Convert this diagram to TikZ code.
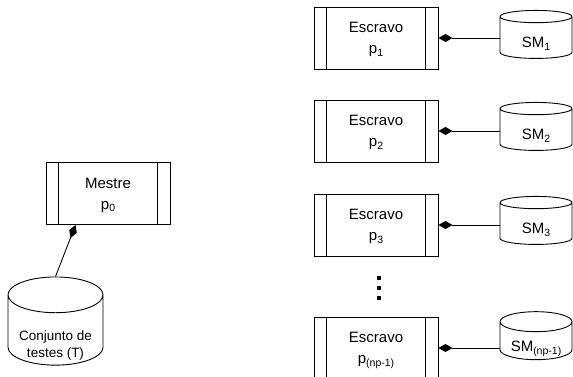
\documentclass[tikz,border=0pt]{standalone}
\usepackage{fontspec}
\setmainfont{Liberation Sans}
\usetikzlibrary{shapes.geometric,arrows.meta,positioning,calc}

\newcommand{\idx}[1]{\raisebox{-0.35ex}[\height][0pt]{\fontsize{10.5}{10.5}\selectfont #1}}
\newcommand{\low}[2]{\raisebox{-#1}[\height][\depth]{#2}}
\tikzset{
	proc/.style={draw, line width=0.9pt, minimum width=124pt, minimum height=62pt, align=center,
		font=\fontsize{15}{21}\selectfont, text depth=0pt,
		path picture={\draw[line width=0.9pt] ([xshift=12.5pt]path picture bounding box.north west) -- ([xshift=12.5pt]path picture bounding box.south west)
			([xshift=-12.5pt]path picture bounding box.north east) -- ([xshift=-12.5pt]path picture bounding box.south east);}},
	db/.style={cylinder, shape border rotate=90, aspect=0.35, draw, line width=0.9pt, align=center,
		font=\fontsize{15}{19}\selectfont, minimum width=72pt, minimum height=48pt},
	dmd/.style={{Diamond[length=14pt,width=8pt]}-, line width=0.9pt}
}

\begin{document}
\begin{tikzpicture}[x=1pt,y=-1pt]
	%Definitions%
	%===========================================================
	\def \SlaveX {376}; %x of the slave boxes
	\def \DiskX {536}; %x of the SM disks
	\useasboundingbox (0,0) rectangle (573,377);
	
	%Master and test set
	\node[proc] (m) at (108,193.5) {Mestre\\p\idx{0}};
	\node[db, minimum width=95pt, minimum height=83pt, aspect=0.45, font=\fontsize{13.5}{17}\selectfont] (t) at (55.5,333.5)
		{\low{12pt}{\begin{tabular}{@{}c@{}}Conjunto de\\testes (T)\end{tabular}}};
	\draw[dmd] ([xshift=30pt]m.south west) -- (t.north); %master - test set
	
	%Slaves and their memories
	\foreach \i/\ys/\yd/\lab in {1/38/39/1, 2/131/131/2, 3/225/225/3, 4/348/343/(np-1)}{
		\node[proc] (s\i) at (\SlaveX,\ys) {Escravo\\p\idx{\lab}};
		\node[db] (sm\i) at (\DiskX,\yd) {\low{3.5pt}{SM\idx{\lab}}};
		\draw[dmd] (s\i.east) -- (s\i.east -| sm\i.west); %slave - memory
	}
	
	%dots between p3 and p(np-1)
	\foreach \y in {276,286,296}
		\fill (377,\y) rectangle +(3.5,3.5);
\end{tikzpicture}
\end{document}
